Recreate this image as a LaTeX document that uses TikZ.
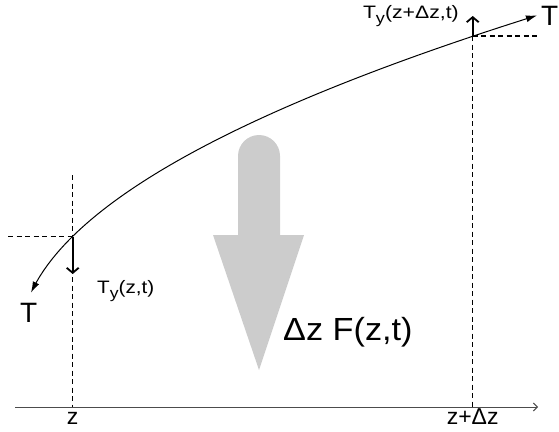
\documentclass[tikz,border=0pt]{standalone}
\usepackage{fontspec}
\setmainfont{Liberation Sans}
\usepackage{xcolor}
\usetikzlibrary{arrows.meta}
\definecolor{forcegray}{HTML}{CCCCCC}
\newcommand{\suby}{\raisebox{-0.3em}{\scalebox{0.85}{y}}}
\newcommand{\fs}[1]{\fontsize{#1}{#1}\selectfont}
\newcommand{\wide}[2]{\scalebox{#1}[1]{#2}}

\begin{document}
\begin{tikzpicture}[x=1pt, y=-1pt,
  every node/.style={inner sep=0pt},
  guide/.style={line width=1.5pt, dash pattern=on 5pt off 3.5pt},
  compvec/.style={line width=1.8pt, -{Straight Barb[length=5pt,width=12pt]}},
  stringline/.style={line width=1pt, {Latex[length=11pt,width=7pt]}-{Latex[length=11pt,width=7pt]}}]
\useasboundingbox (0,0) rectangle (559,431);

% Axis
\coordinate (ax0) at (15,407);
\coordinate (ax1) at (538,407);
\draw[line width=1pt, black!70, -{Straight Barb[length=4pt,width=8pt]}] (ax0) -- (ax1);

% Points on the string
\coordinate (pz) at (72.7,236.5);
\coordinate (pdz) at (472.7,36);
\coordinate (fz) at (72.7,407);
\coordinate (fdz) at (472.7,407);
\coordinate (topz) at (72.7,175);
\coordinate (lz0) at (8,236.5);
\coordinate (rdz) at (538,36);

% Guide lines
\draw[guide] (topz) -- (fz);
\draw[guide] (lz0) -- (pz);
\draw[guide] (pdz) -- (fdz);
\draw[guide] (pdz) -- (rdz);

% Force arrow
\fill[forcegray] (238,235) -- (238,156) arc[start angle=180, end angle=360, radius=21]
  -- (280,235) -- (304,235) -- (259,370) -- (213,235) -- cycle;

% String
\draw[stringline] plot[domain=31:537, samples=120] (\x, {339.9-14.27*sqrt(\x-20)});

% Vertical components
\coordinate (tydown) at (72.7,274);
\coordinate (tyup) at (472.7,16);
\draw[compvec] (pz) -- (tydown);
\draw[compvec] (pdz) -- (tyup);

% Labels
\node[anchor=base west, font=\fs{28}] (tleft) at (20,322.7) {T};
\node[anchor=base east, font=\fs{28}] (tright) at (558.5,25) {T};
\node[anchor=base west, font=\fs{18}] (tyz) at (97,293) {\wide{1.15}{T\suby(z,t)}};
\node[anchor=base east, font=\fs{18}] (tydz) at (459,18) {\wide{1.18}{T\suby(z+Δz,t)}};
\node[anchor=base west, font=\fs{32}] (force) at (283,340) {\wide{1.07}{Δz F(z,t)}};
\node[anchor=base, font=\fs{23}] (lz) at (fz |- 0,424) {z};
\node[anchor=base, font=\fs{23}] (ldz) at (fdz |- 0,424) {z+Δz};

\end{tikzpicture}
\end{document}
